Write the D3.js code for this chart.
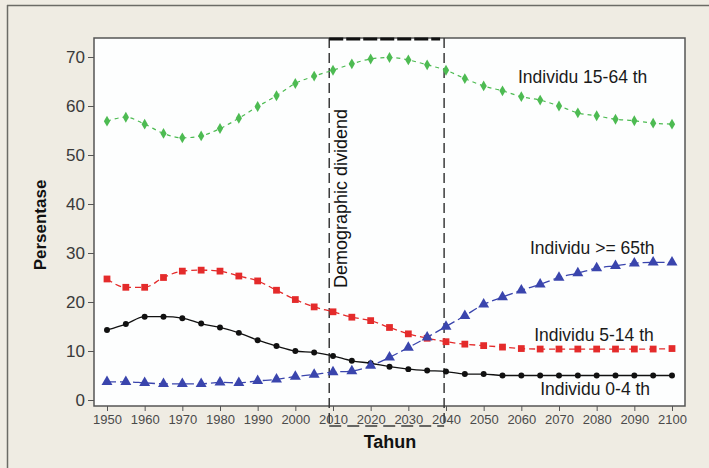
<!DOCTYPE html>
<html><head><meta charset="utf-8">
<script src="https://cdn.jsdelivr.net/npm/d3@7/dist/d3.min.js"></script>
<style>
html,body{margin:0;padding:0;background:#efece3;}
svg{display:block;}
text{font-family:"Liberation Sans",Arial,sans-serif;}
</style></head>
<body>
<svg id="c" width="709" height="468"></svg>
<script>
const years = d3.range(1950, 2101, 5);
const age15_64 = [56.9,57.7,56.3,54.4,53.5,53.9,55.4,57.5,59.9,62.1,64.6,66.1,67.3,68.6,69.6,69.9,69.4,68.4,67.3,65.6,64.1,63.1,61.9,61.2,60.0,58.6,58.0,57.3,57.0,56.5,56.3];
const age5_14 = [24.7,23.0,23.0,25.0,26.3,26.5,26.3,25.3,24.3,22.4,20.5,19.0,18.0,16.9,16.2,14.8,13.5,12.6,11.9,11.4,11.1,10.8,10.5,10.4,10.4,10.4,10.4,10.4,10.4,10.4,10.5];
const age0_4 = [14.3,15.5,17.0,17.0,16.7,15.6,14.8,13.7,12.2,11.0,10.0,9.7,9.0,8.0,7.5,6.8,6.3,6.0,5.8,5.3,5.3,5.0,5.0,5.0,5.0,5.0,5.0,5.0,5.0,5.0,5.0];
const age65 = [3.7,3.7,3.5,3.3,3.3,3.3,3.6,3.5,3.9,4.2,4.8,5.2,5.7,5.9,7.0,8.7,10.7,12.8,15.0,17.2,19.5,21.0,22.4,23.6,25.0,25.9,26.9,27.4,27.9,28.1,28.1];
const xTicks = d3.range(1950, 2101, 10);
const yTicks = [0,10,20,30,40,50,60,70];
const dividend = [2009, 2039.5];
const labels = ["Individu 15-64 th","Individu >= 65th","Individu 5-14 th","Individu 0-4 th"];
const labelPos = [[2059.1,64.7],[2062.3,29.8],[2063.4,12.0],[2065.0,1.0]];

const svg = d3.select("#c");
const L=94, R=685, T=38, B=406;
const x = d3.scaleLinear().domain([1950,2100]).range([107,672]);
const y = d3.scaleLinear().domain([0,70]).range([400,57]);

// outer frame lines
svg.append("line").attr("x1",7).attr("x2",709).attr("y1",5.5).attr("y2",5.5).attr("stroke","#6b6b66").attr("stroke-width",1.5);
svg.append("line").attr("x1",7.5).attr("x2",7.5).attr("y1",5).attr("y2",468).attr("stroke","#6b6b66").attr("stroke-width",1.5);

// plot area
svg.append("rect").attr("x",L).attr("y",T).attr("width",R-L).attr("height",B-T).attr("fill","#fdfefe");

// axes
const yAxis = d3.axisLeft(y).tickValues(yTicks).tickSize(6).tickPadding(3);
const gy = svg.append("g").attr("transform",`translate(${L},0)`).call(yAxis);
gy.select(".domain").remove();
gy.selectAll("line").attr("stroke","#555");
gy.selectAll("text").attr("font-size",17).attr("fill","#3a3a3a").style("font-family","'Liberation Sans',Arial,sans-serif");

const xAxis = d3.axisBottom(x).tickValues(xTicks).tickFormat(d3.format("d")).tickSize(5).tickPadding(4);
const gx = svg.append("g").attr("transform",`translate(0,${B})`).call(xAxis);
gx.select(".domain").remove();
gx.selectAll("line").attr("stroke","#555");
gx.selectAll("text").attr("font-size",13).attr("fill","#4a4a4a").style("font-family","'Liberation Sans',Arial,sans-serif");

svg.append("rect").attr("x",L).attr("y",T).attr("width",R-L).attr("height",B-T).attr("fill","none").attr("stroke","#555").attr("stroke-width",1.5);

// demographic dividend box
const bx0 = x(dividend[0]), bx1 = x(dividend[1]);
dividend.forEach(v=>{
  svg.append("line").attr("x1",x(v)).attr("x2",x(v)).attr("y1",T).attr("y2",426)
    .attr("stroke","#3a3a3a").attr("stroke-width",1.5).attr("stroke-dasharray","10,5");
});
svg.append("line").attr("x1",bx0).attr("x2",bx1).attr("y1",426).attr("y2",426)
  .attr("stroke","#3a3a3a").attr("stroke-width",1.3).attr("stroke-dasharray","12,6");
svg.append("line").attr("x1",bx0).attr("x2",bx1-4).attr("y1",T+1).attr("y2",T+1)
  .attr("stroke","#111").attr("stroke-width",3).attr("stroke-dasharray","14,3");
svg.append("text").attr("transform",`translate(${bx0+18},288) rotate(-90)`)
  .attr("font-size",18).attr("fill","#111").text("Demographic dividend");

// series
const series = [
  {v:age15_64, color:"#4dbb52", dash:"4,4", sym:d3.symbolDiamond, size:34, w:1.2},
  {v:age5_14, color:"#e42b2b", dash:"6,4", sym:d3.symbolSquare, size:46, w:1.3},
  {v:age0_4, color:"#111111", dash:null, sym:d3.symbolCircle, size:28, w:1.3},
  {v:age65, color:"#3a45ad", dash:"9,4", sym:d3.symbolTriangle, size:52, w:1.3}
];
const line = d3.line().x((d,i)=>x(years[i])).y(d=>y(d)).curve(d3.curveMonotoneX);
series.forEach(s=>{
  svg.append("path").datum(s.v).attr("d",line).attr("fill","none")
    .attr("stroke",s.color).attr("stroke-width",s.w).attr("stroke-dasharray",s.dash);
  svg.append("g").selectAll("path").data(s.v).join("path")
    .attr("transform",(d,i)=>`translate(${x(years[i])},${y(d)})`)
    .attr("d",d3.symbol().type(s.sym).size(s.size)).attr("fill",s.color);
});

// labels
labels.forEach((t,i)=>{
  svg.append("text").attr("x",x(labelPos[i][0])).attr("y",y(labelPos[i][1]))
    .attr("font-size",17.5).attr("fill","#1a1a1a").text(t);
});

// axis titles
svg.append("text").attr("transform","translate(46,225) rotate(-90)").attr("text-anchor","middle")
  .attr("font-size",17).attr("font-weight","bold").attr("fill","#111").text("Persentase");
svg.append("text").attr("x",390).attr("y",448).attr("text-anchor","middle")
  .attr("font-size",18).attr("font-weight","bold").attr("fill","#111").text("Tahun");
</script>
</body></html>
